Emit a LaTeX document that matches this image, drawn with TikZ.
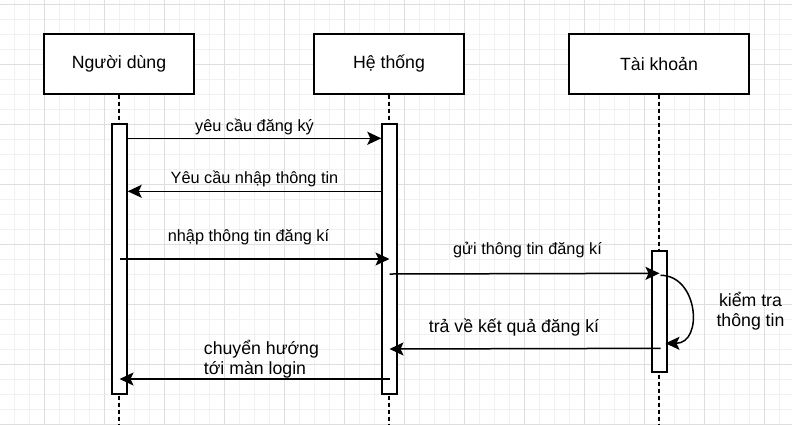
\documentclass[tikz,border=0pt]{standalone}
\usepackage{fontspec}
\setmainfont{Liberation Sans}
\usetikzlibrary{arrows.meta}
\definecolor{gridminor}{RGB}{241,241,241}
\definecolor{gridmajor}{RGB}{222,222,222}
\tikzset{
% Node styles for the sequence diagram: lifeline heads and activation bars
head node/.style={rectangle,draw,line width=1.4bp,fill=white,minimum height=60bp,font=\fontsize{17.7bp}{21bp}\selectfont},
bar node/.style={rectangle,draw,line width=1.4bp,fill=white,minimum width=15bp,inner sep=0},
life line/.style={line width=1.4bp,dash pattern=on 4bp off 3bp},
msg/.style={line width=1.5bp,-{Stealth[length=14bp,width=13bp,inset=3bp]}},
msg label/.style={font=\fontsize{16.3bp}{20bp}\selectfont,inner sep=0},
big label/.style={font=\fontsize{17.7bp}{20bp}\selectfont,inner sep=0},
minor grid/.style={gridminor,line width=1bp},
major grid/.style={gridmajor,line width=1bp}
}

\begin{document}
\begin{tikzpicture}[x=1bp,y=-1bp]
  \useasboundingbox (0,0) rectangle (792,424);
  \fill[white] (0,0) rectangle (792,424);
  % background grid
  \foreach \i in {0,...,53} {
    \draw[minor grid] ({\i*15-1},0) -- ({\i*15-1},424);
  }
  \foreach \j in {0,...,28} {
    \draw[minor grid] (0,{\j*15+4}) -- (792,{\j*15+4});
  }
  \foreach \i in {0,...,12} {
    \draw[major grid] ({\i*60+44},0) -- ({\i*60+44},424);
  }
  \foreach \j in {0,...,7} {
    \draw[major grid] (0,{\j*60+4}) -- (792,{\j*60+4});
  }
  % lifeline heads
  \node[head node, minimum width=150bp] (user) at (119,64) {Người dùng};
  \node[head node, minimum width=150bp] (sys) at (389,64) {Hệ thống};
  \node[head node, minimum width=180bp] (acc) at (659,64) {Tài khoản};
  \coordinate (user end) at (119,424);
  \coordinate (sys end) at (389,424);
  \coordinate (acc end) at (659,424);
  \draw[life line] (user.south) -- (user end);
  \draw[life line] (sys.south) -- (sys end);
  \draw[life line] (acc.south) -- (acc end);
  % activation bars
  \node[bar node, minimum height=270bp] (user bar) at (119.5,259) {};
  \node[bar node, minimum height=270bp] (sys bar) at (389.5,259) {};
  \node[bar node, minimum height=121bp] (acc bar) at (659.5,311.5) {};
  % messages
  \draw[msg] ([yshift=-15bp]user bar.north east) -- ([yshift=-15bp]sys bar.north west)
    node[msg label, midway, anchor=base, yshift=7bp] {yêu cầu đăng ký};
  \draw[msg] ([yshift=-68bp]sys bar.north west) -- ([yshift=-68bp]user bar.north east)
    node[msg label, midway, anchor=base, yshift=8bp] {Yêu cầu nhập thông tin};
  \draw[msg] (user bar.center) -- (sys bar.center)
    node[msg label, midway, anchor=base, yshift=18bp, xshift=-6bp] {nhập thông tin đăng kí};
  \draw[msg] ([yshift=-15bp]sys bar.center) -- ([yshift=-23bp]acc bar.north)
    node[msg label, midway, anchor=base, yshift=19bp, xshift=3bp] {gửi thông tin đăng kí};
  \draw[msg] ([shift={(1bp,-25bp)}]acc bar.north) .. controls +(38,0) and +(38,0) .. ([shift={(6bp,-93bp)}]acc bar.north)
    node[big label, midway, align=center, anchor=base, xshift=59bp, yshift=-17bp] {kiểm tra\\thông tin};
  \draw[msg] ([shift={(1bp,-98bp)}]acc bar.north) -- ([yshift=-90bp]sys bar.center)
    node[big label, midway, anchor=base, yshift=16bp, xshift=-11bp] {trả về kết quả đăng kí};
  \draw[msg] ([yshift=-120bp]sys bar.center) -- ([yshift=-120bp]user bar.center)
    node[big label, pos=0.69, align=left, anchor=base west, yshift=5bp] {chuyển hướng\\tới màn login};
\end{tikzpicture}
\end{document}
